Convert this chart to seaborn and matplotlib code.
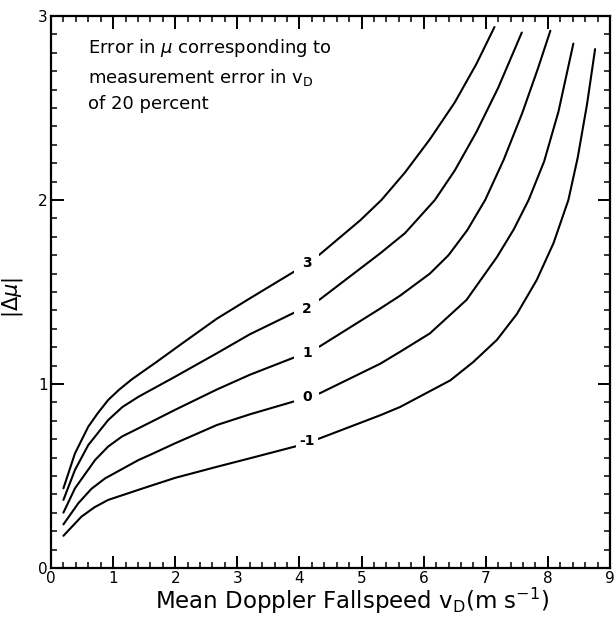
import matplotlib
matplotlib.use("Agg")
import matplotlib.pyplot as plt
import pandas as pd
import seaborn as sns
from matplotlib.ticker import MultipleLocator

# Error in mu for a 20 % error in the mean Doppler fallspeed, one curve per mu
vd_m1 = [0.2, 0.49, 0.7, 0.92, 1.41, 1.59, 2.0, 2.67, 3.2, 3.96, 4.33, 5.3, 5.62,
         6.43, 6.8, 7.18, 7.5, 7.82, 8.09, 8.33, 8.48, 8.63, 8.76]
dmu_m1 = [0.175, 0.279, 0.33, 0.37, 0.425, 0.445, 0.49, 0.55, 0.596, 0.663, 0.705, 0.83, 0.875,
          1.02, 1.12, 1.24, 1.38, 1.565, 1.765, 2.0, 2.23, 2.52, 2.82]

vd_0 = [0.2, 0.44, 0.65, 0.87, 1.41, 1.59, 2.0, 2.67, 3.2, 3.96, 4.33, 5.3, 5.62,
        6.1, 6.69, 7.18, 7.45, 7.69, 7.94, 8.17, 8.41]
dmu_0 = [0.237, 0.352, 0.43, 0.487, 0.587, 0.614, 0.678, 0.777, 0.835, 0.91, 0.95, 1.11, 1.175,
         1.275, 1.457, 1.69, 1.84, 2.0, 2.21, 2.48, 2.85]

vd_1 = [0.2, 0.386, 0.71, 0.92, 1.14, 1.59, 2.0, 2.67, 3.2, 3.96, 4.33, 5.3, 5.62,
        6.1, 6.4, 6.7, 6.99, 7.29, 7.59, 7.84, 8.04]
dmu_1 = [0.301, 0.433, 0.587, 0.66, 0.714, 0.79, 0.86, 0.97, 1.05, 1.15, 1.205, 1.41, 1.48,
         1.6, 1.7, 1.835, 2.0, 2.22, 2.475, 2.715, 2.92]

vd_2 = [0.2, 0.386, 0.6, 0.92, 1.15, 1.41, 2.0, 2.67, 3.2, 3.96, 4.33, 5.3, 5.7,
        6.18, 6.5, 6.85, 7.2, 7.58]
dmu_2 = [0.37, 0.533, 0.668, 0.804, 0.875, 0.931, 1.04, 1.167, 1.27, 1.395, 1.46, 1.71, 1.82,
         2.0, 2.16, 2.37, 2.61, 2.91]

vd_3 = [0.2, 0.386, 0.6, 0.75, 0.92, 1.1, 1.3, 1.7, 2.13, 2.67, 3.2, 3.96, 4.33, 4.98,
        5.32, 5.7, 6.1, 6.5, 6.85, 7.14]
dmu_3 = [0.433, 0.623, 0.768, 0.84, 0.913, 0.97, 1.025, 1.12, 1.225, 1.355, 1.465, 1.62, 1.705,
         1.89, 2.0, 2.15, 2.33, 2.53, 2.74, 2.94]

mu_values = ["-1", "0", "1", "2", "3"]
curve_vd = [vd_m1, vd_0, vd_1, vd_2, vd_3]
curve_dmu = [dmu_m1, dmu_0, dmu_1, dmu_2, dmu_3]
label_vd = 4.12
label_dmu = [0.69, 0.93, 1.17, 1.41, 1.66]

x_ticks = [0, 1, 2, 3, 4, 5, 6, 7, 8, 9]
y_ticks = [0, 1, 2, 3]

sns.set_theme(style="ticks")
plt.rcParams["font.family"] = ["DejaVu Sans"]
plt.rcParams["mathtext.fontset"] = "dejavusans"
plt.rcParams["text.color"] = "black"
plt.rcParams["axes.labelcolor"] = "black"

df = pd.concat(
    [pd.DataFrame({"vd": xs, "dmu": ys, "mu": m})
     for m, xs, ys in zip(mu_values, curve_vd, curve_dmu)],
    ignore_index=True,
)

fig = plt.figure(figsize=(6.14, 6.19), dpi=100)
ax = fig.add_axes([51 / 614, 1 - 568 / 619, 559 / 614, 552 / 619])

sns.lineplot(data=df, x="vd", y="dmu", units="mu", estimator=None, sort=False,
             color="black", linewidth=1.5, ax=ax, legend=False)

# inline curve labels, each sitting in a short break of its curve
for m, ly in zip(mu_values, label_dmu):
    pad = 0.22 if m.startswith("-") else 0.55
    ax.text(label_vd, ly, m, ha="center", va="center", fontsize=10, fontweight="bold",
            color="black",
            bbox=dict(boxstyle=f"square,pad={pad}", fc="white", ec="none"), zorder=5)

ax.text(0.6, 2.885,
        "Error in $\\mu$ corresponding to\nmeasurement error in v$_\\mathrm{D}$\nof 20 percent",
        ha="left", va="top", fontsize=13, linespacing=1.5, color="black")

ax.set_xlim(0, 9)
ax.set_ylim(0, 3)
ax.set_xticks(x_ticks)
ax.set_yticks(y_ticks)
ax.set_xticklabels([str(t) for t in x_ticks])
ax.set_yticklabels([str(t) for t in y_ticks])
ax.xaxis.set_minor_locator(MultipleLocator(0.2))
ax.yaxis.set_minor_locator(MultipleLocator(0.1))
ax.tick_params(which="both", direction="in", top=True, right=True, colors="black",
               labelsize=11)
ax.tick_params(which="major", length=9, width=1.4, pad=2.5)
ax.tick_params(which="minor", length=4.5, width=1.1)
for sp in ax.spines.values():
    sp.set_linewidth(1.6)
    sp.set_color("black")

ax.set_xlabel("Mean Doppler Fallspeed v$_\\mathrm{D}$(m s$^{-1}$)", fontsize=16.5,
              color="black")
ax.xaxis.set_label_coords(0.538, -0.033)
ax.set_ylabel("|$\\Delta\\mu$|", fontsize=15, color="black")
ax.yaxis.set_label_coords(-0.047, 0.49)

fig.savefig("out.png", dpi=100, facecolor="white")
